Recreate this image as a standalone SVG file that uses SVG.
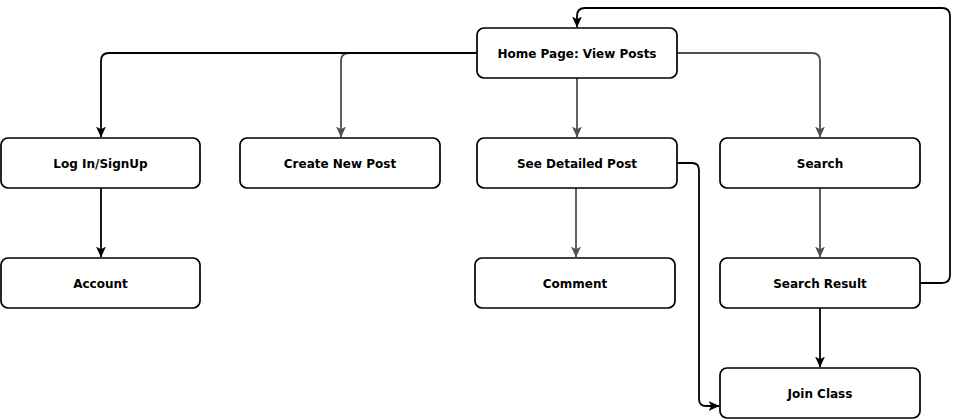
<svg xmlns="http://www.w3.org/2000/svg" width="962" height="420" viewBox="0 0 962 420">
<style>
.node rect{fill:#fff;stroke:#000;stroke-width:1.7}
.node text{font-family:"DejaVu Sans",Verdana,sans-serif;font-weight:bold;font-size:12px;fill:#000;text-anchor:middle;dominant-baseline:central}
.e{fill:none;stroke-width:1.8}
.k{stroke:#000}
.g{stroke:#505050}
</style>
<defs>
<marker id="ak" viewBox="0 0 10 10" refX="9.5" refY="5" markerWidth="11" markerHeight="11" markerUnits="userSpaceOnUse" orient="auto"><path d="M0,0.5 L10,5 L0,9.5 L2.5,5 z" fill="#000"/></marker>
<marker id="ag" viewBox="0 0 10 10" refX="9.5" refY="5" markerWidth="11" markerHeight="11" markerUnits="userSpaceOnUse" orient="auto"><path d="M0,0.5 L10,5 L0,9.5 L2.5,5 z" fill="#505050"/></marker>
</defs>
<g id="connectors">
<path class="e g" d="M350,53 L349,53 Q341,53 341,61 L341,137" marker-end="url(#ag)"/>
<path class="e k" d="M477,53 L109,53 Q101,53 101,61 L101,137" marker-end="url(#ak)"/>
<path class="e g" d="M577,78 L577,137" marker-end="url(#ag)"/>
<path class="e g" d="M677,53 L812,53 Q820,53 820,61 L820,137" marker-end="url(#ag)"/>
<path class="e k" d="M101,188 L101,257" marker-end="url(#ak)"/>
<path class="e g" d="M576,188 L576,257" marker-end="url(#ag)"/>
<path class="e k" d="M677,163 L692,163 Q699,163 699,170 L699,399 Q699,406 706,406 L719,406" marker-end="url(#ak)"/>
<path class="e g" d="M820,188 L820,257" marker-end="url(#ag)"/>
<path class="e k" d="M820,308 L820,367" marker-end="url(#ak)"/>
<path class="e k" d="M920,283 L942,283 Q950,283 950,275 L950,16 Q950,8 942,8 L585,8 Q577,8 577,16 L577,27" marker-end="url(#ak)"/>
</g>
<g id="home" class="node"><rect x="477" y="28" width="200" height="50" rx="7"/><text x="577" y="54">Home Page: View Posts</text></g>
<g id="login" class="node"><rect x="1" y="138" width="199" height="50" rx="7"/><text x="100.5" y="164">Log In/SignUp</text></g>
<g id="create" class="node"><rect x="240" y="138" width="200" height="50" rx="7"/><text x="340" y="164">Create New Post</text></g>
<g id="detail" class="node"><rect x="477" y="138" width="200" height="50" rx="7"/><text x="577" y="164">See Detailed Post</text></g>
<g id="search" class="node"><rect x="720" y="138" width="200" height="50" rx="7"/><text x="820" y="164">Search</text></g>
<g id="account" class="node"><rect x="1" y="258" width="199" height="50" rx="7"/><text x="100.5" y="284">Account</text></g>
<g id="comment" class="node"><rect x="475" y="258" width="200" height="50" rx="7"/><text x="575" y="284">Comment</text></g>
<g id="result" class="node"><rect x="720" y="258" width="200" height="50" rx="7"/><text x="820" y="284">Search Result</text></g>
<g id="join" class="node"><rect x="720" y="368" width="200" height="50" rx="7"/><text x="820" y="394">Join Class</text></g>
</svg>
